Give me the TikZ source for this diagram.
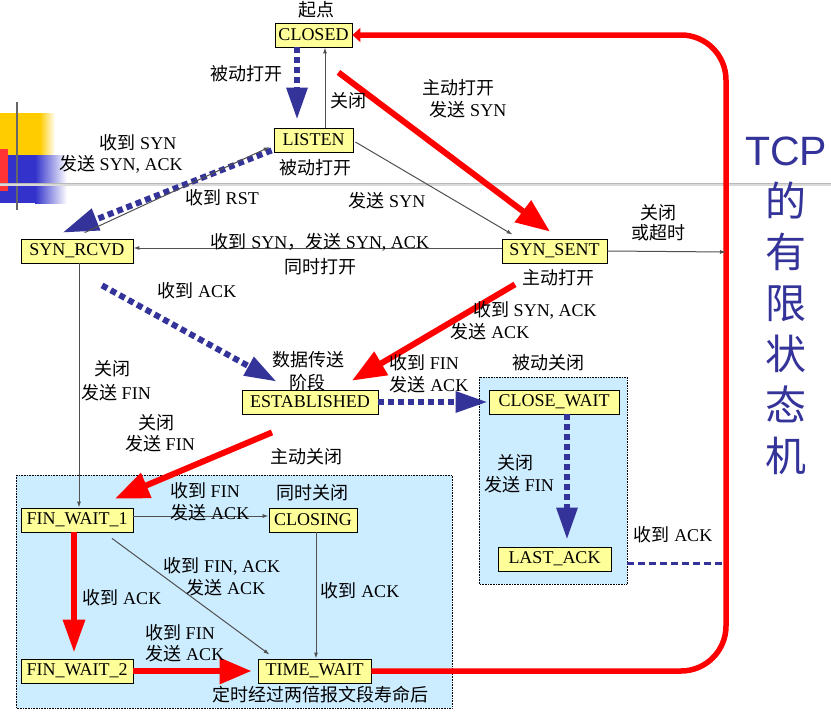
\documentclass[tikz,border=0pt]{standalone}
\usepackage{fontspec}
\setmainfont{Liberation Serif}
\newfontfamily\cjk{Noto Sans CJK SC}
\newfontfamily\tcpsans{Liberation Sans}
\usetikzlibrary{arrows.meta}
\newcommand\zh[1]{{\cjk #1}}
\definecolor{stateyellow}{HTML}{FFFF99}
\definecolor{regionblue}{HTML}{CCECFF}
\definecolor{tcpblue}{HTML}{333399}
\definecolor{thingrey}{HTML}{505050}
\definecolor{decyellow}{HTML}{FFCC00}
\definecolor{decblue}{HTML}{3333CC}
\definecolor{decred}{HTML}{FF3333}
\begin{document}
\begin{tikzpicture}[x=1pt,y=-1pt,
 state/.style={draw=black, line width=0.8pt, fill=stateyellow, minimum height=24pt, inner sep=0pt, font=\fontsize{18}{20}\selectfont},
 lbl/.style={inner sep=0pt, font=\fontsize{18}{21}\selectfont},
 thinedge/.style={draw=thingrey, line width=1pt, -{Latex[length=6pt,width=4pt]}},
 blueedge/.style={draw=tcpblue, line width=6pt, dash pattern=on 6pt off 4pt, -{Triangle[length=32pt,width=20pt]}},
 rededge/.style={draw=red, line width=6pt, -{Triangle[length=34pt,width=26pt]}},
 redloop/.style={draw=red, line width=5.5pt, rounded corners=45pt, -{Triangle[length=8pt,width=14pt]}},
 region/.style={draw=black, densely dotted, line width=0.6pt, fill=regionblue},
]
\useasboundingbox (0,0) rectangle (831,712);
\fill[white] (0,0) rectangle (831,712);
% decoration
\fill[decyellow] (0,113) rectangle (40,155);
\shade[left color=decyellow, right color=white] (40,113) rectangle (55,155);
\fill[decblue] (0,155) rectangle (35,203);
\shade[left color=decblue, right color=white] (35,155) rectangle (67,203);
\fill[decred] (0,149) rectangle (8,191);
\draw[gray!80!black, line width=1.5pt] (17,102) -- (17,210);
\draw[gray!30, line width=3pt] (0,184) -- (831,184);
\draw[gray!55, line width=1pt] (0,183.5) -- (831,183.5);
% regions
\draw[region] (16,475) rectangle (452,708);
\draw[region] (479,377) rectangle (627,584);
% states
\node[state, minimum width=77pt] (closed) at (313.5,35) {CLOSED};
\node[state, minimum width=79pt] (listen) at (313.5,140) {LISTEN};
\node[state, minimum width=112pt] (synrcvd) at (77,251) {SYN\_RCVD};
\node[state, minimum width=105pt] (synsent) at (554.5,251) {SYN\_SENT};
\node[state, minimum width=136pt] (est) at (310,402) {ESTABLISHED};
\node[state, minimum width=130pt] (cw) at (554,402) {CLOSE\_WAIT};
\node[state, minimum width=113pt] (la) at (554.5,559) {LAST\_ACK};
\node[state, minimum width=112pt] (fw1) at (77,520) {FIN\_WAIT\_1};
\node[state, minimum width=88pt] (closing) at (313,520) {CLOSING};
\node[state, minimum width=112pt] (fw2) at (77,671) {FIN\_WAIT\_2};
\node[state, minimum width=113pt] (tw) at (314.5,671) {TIME\_WAIT};
\coordinate (rb) at (726,671);
\coordinate (rt) at (726,35);
\coordinate (rs) at (726,252);
\coordinate (ra) at (726,563);
% red loop
\draw[redloop] (tw.east) -- (rb) -- (rt) -- (closed.east);
% edges
\draw[blueedge] ([xshift=-16.5pt]closed.south) -- ([xshift=-16.5pt,yshift=8pt]listen.north);
\draw[thinedge] ([xshift=11.5pt]listen.north) -- ([xshift=11.5pt]closed.south);
\draw[rededge] ([xshift=-14pt,yshift=-25pt]closed.south east) -- ([xshift=-4.5pt,yshift=7pt]synsent.north);
\draw[thinedge] ([xshift=2pt,yshift=-2pt]listen.east) -- ([xshift=11pt,yshift=4pt]synsent.north west);
\draw[blueedge, -{Triangle[length=36pt,width=22pt]}] ([xshift=-2pt,yshift=2pt]listen.south west) -- ([xshift=42pt,yshift=6pt]synrcvd.north west);
\draw[thinedge] ([xshift=64pt,yshift=6pt]synrcvd.north west) -- ([xshift=-4pt,yshift=-7pt]listen.west);
\draw[thinedge] ([yshift=3pt]synsent.west) -- ([yshift=3pt]synrcvd.east);
\draw[thinedge] (synsent.east) -- (rs);
\draw[blueedge] ([xshift=25pt,yshift=-22pt]synrcvd.south) -- ([xshift=35pt,yshift=8pt]est.north west);
\draw[rededge] ([xshift=-39.5pt,yshift=-21pt]synsent.south) -- ([xshift=42pt,yshift=9pt]est.north);
\draw[blueedge] (est.east) -- ([xshift=-1pt]cw.west);
\draw[blueedge] ([xshift=13pt]cw.south) -- ([xshift=12.5pt,yshift=7pt]la.north);
\draw[rededge] ([xshift=-38pt,yshift=-18pt]est.south) -- ([xshift=38pt,yshift=9pt]fw1.north);
\draw[thinedge] ([xshift=2pt]synrcvd.south) -- ([xshift=2pt]fw1.north);
\draw[thinedge] ([yshift=4pt]fw1.east) -- ([yshift=4pt]closing.west);
\draw[thinedge] ([xshift=35pt,yshift=-6pt]fw1.south) -- ([xshift=12pt,yshift=4pt]tw.north west);
\draw[thinedge] ([xshift=3pt]closing.south) -- ([xshift=1.5pt]tw.north);
\draw[rededge, -{Triangle[length=33pt,width=21pt]}] ([xshift=-3pt]fw1.south) -- ([xshift=-3pt,yshift=6pt]fw2.north);
\draw[rededge, -{Triangle[length=32pt,width=25pt]}] (fw2.east) -- ([xshift=-6pt]tw.west);
\draw[tcpblue, line width=3pt, dash pattern=on 7pt off 4pt, shorten <=16pt] ([yshift=-4pt]la.east) -- (ra);
% labels
\node[lbl] (l1) at (316,10) {\zh{起点}};
\node[lbl] (l2) at (246,74) {\zh{被动打开}};
\node[lbl] (l3) at (348,101) {\zh{关闭}};
\node[lbl] (l4) at (458,88) {\zh{主动打开}};
\node[lbl] (l5) at (468,110) {\zh{发送} SYN};
\node[lbl] (l6) at (138,143) {\zh{收到} SYN};
\node[lbl] (l7) at (121,164) {\zh{发送} SYN, ACK};
\node[lbl] (l8) at (222,198) {\zh{收到} RST};
\node[lbl] (l9) at (315,168) {\zh{被动打开}};
\node[lbl] (l10) at (387,201) {\zh{发送} SYN};
\node[lbl] (l11) at (320,242) {\zh{收到} SYN\zh{，发送} SYN, ACK};
\node[lbl] (l12) at (320,267) {\zh{同时打开}};
\node[lbl] (l13) at (658,213) {\zh{关闭}};
\node[lbl] (l14) at (658,233) {\zh{或超时}};
\node[lbl] (l15) at (558,278) {\zh{主动打开}};
\node[lbl] (l16) at (197,291) {\zh{收到} ACK};
\node[lbl] (l17) at (308,360) {\zh{数据传送}};
\node[lbl] (l18) at (307,383) {\zh{阶段}};
\node[lbl] (l19) at (112,369) {\zh{关闭}};
\node[lbl] (l20) at (116,393) {\zh{发送} FIN};
\node[lbl] (l21) at (156,423) {\zh{关闭}};
\node[lbl] (l22) at (160,444) {\zh{发送} FIN};
\node[lbl] (l23) at (306,457) {\zh{主动关闭}};
\node[lbl] (l24) at (535,310) {\zh{收到} SYN, ACK};
\node[lbl] (l25) at (490,332) {\zh{发送} ACK};
\node[lbl] (l26) at (424,363) {\zh{收到} FIN};
\node[lbl] (l27) at (429,385) {\zh{发送} ACK};
\node[lbl] (l28) at (548,363) {\zh{被动关闭}};
\node[lbl] (l29) at (515,463) {\zh{关闭}};
\node[lbl] (l30) at (519,485) {\zh{发送} FIN};
\node[lbl] (l31) at (673,535) {\zh{收到} ACK};
\node[lbl] (l32) at (205,491) {\zh{收到} FIN};
\node[lbl] (l33) at (210,513) {\zh{发送} ACK};
\node[lbl] (l34) at (312,493) {\zh{同时关闭}};
\node[lbl] (l35) at (222,566) {\zh{收到} FIN, ACK};
\node[lbl] (l36) at (226,588) {\zh{发送} ACK};
\node[lbl] (l37) at (360,591) {\zh{收到} ACK};
\node[lbl] (l38) at (122,598) {\zh{收到} ACK};
\node[lbl] (l39) at (180,633) {\zh{收到} FIN};
\node[lbl] (l40) at (185,654) {\zh{发送} ACK};
\node[lbl] (l41) at (320,695) {\zh{定时经过两倍报文段寿命后}};
\node[inner sep=0pt, align=center, text=tcpblue, font=\fontsize{41}{51}\selectfont\tcpsans] (tcp) at (786,306) {TCP\\\zh{的}\\\zh{有}\\\zh{限}\\\zh{状}\\\zh{态}\\\zh{机}};
\end{tikzpicture}
\end{document}
